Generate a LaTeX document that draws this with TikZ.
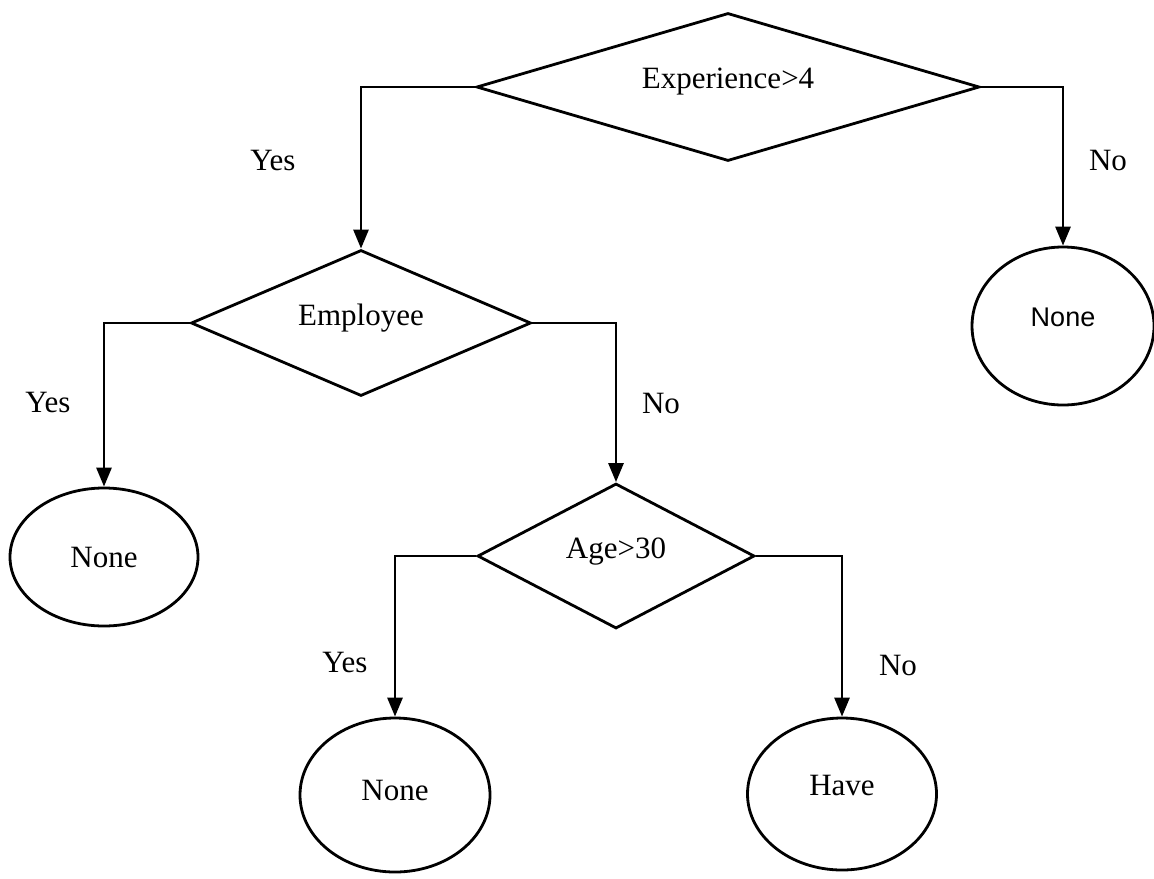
\documentclass[tikz,border=0pt]{standalone}
\usepackage{fontspec}
\setmainfont{Liberation Serif}
\newfontfamily\arialfont{Liberation Sans}
\usetikzlibrary{shapes.geometric,arrows.meta}

\tikzset{
  every node/.style={font=\fontsize{15.5}{18}\selectfont},
  decision/.style={draw, line width=1.4pt, diamond, aspect=2.5, inner sep=0pt},
  leaf/.style={draw, line width=1.4pt, ellipse, inner sep=0pt},
  arr/.style={line width=1.4pt, -{Triangle[width=7.5pt,length=9.5pt]}},
  lbl/.style={inner sep=0pt},
}

\begin{document}
\begin{tikzpicture}[x=0.5pt, y=-0.5pt]
  \useasboundingbox (0,0) rectangle (1154,878);

  % decision nodes
  \node[decision, minimum width=251.5pt, minimum height=74pt, text depth=9pt]
    (exp) at (728,87) {Experience>4};
  \node[decision, minimum width=170pt, minimum height=73pt, text depth=8pt]
    (emp) at (361,323) {Employee};
  \node[decision, minimum width=138.5pt, minimum height=72.5pt, text depth=8pt]
    (age) at (616,556) {Age>30};

  % leaves
  \node[leaf, minimum width=91pt, minimum height=79pt, text depth=9pt,
        font=\arialfont\fontsize{13.5}{16}\selectfont]
    (n1) at (1063,326) {None};
  \node[leaf, minimum width=94pt, minimum height=69pt] (n2) at (104,557) {None};
  \node[leaf, minimum width=95pt, minimum height=77pt, text depth=5pt] (n3) at (395,795) {None};
  \node[leaf, minimum width=94.5pt, minimum height=76pt, text depth=9pt] (hv) at (842,794) {Have};

  % branches
  \draw[arr] (exp.west) -| (emp.north);
  \draw[arr] (exp.east) -| (n1.north);
  \draw[arr] (emp.west) -| (n2.north);
  \draw[arr] (emp.east) -| (age.north);
  \draw[arr] (age.west) -| (n3.north);
  \draw[arr] (age.east) -| (hv.north);

  % branch labels
  \node[lbl] (y1) at (273,160) {Yes};
  \node[lbl] (o1) at (1108,160) {No};
  \node[lbl] (y2) at (48,402) {Yes};
  \node[lbl] (o2) at (661,403) {No};
  \node[lbl] (y3) at (345,662) {Yes};
  \node[lbl] (o3) at (898,665) {No};
\end{tikzpicture}
\end{document}
